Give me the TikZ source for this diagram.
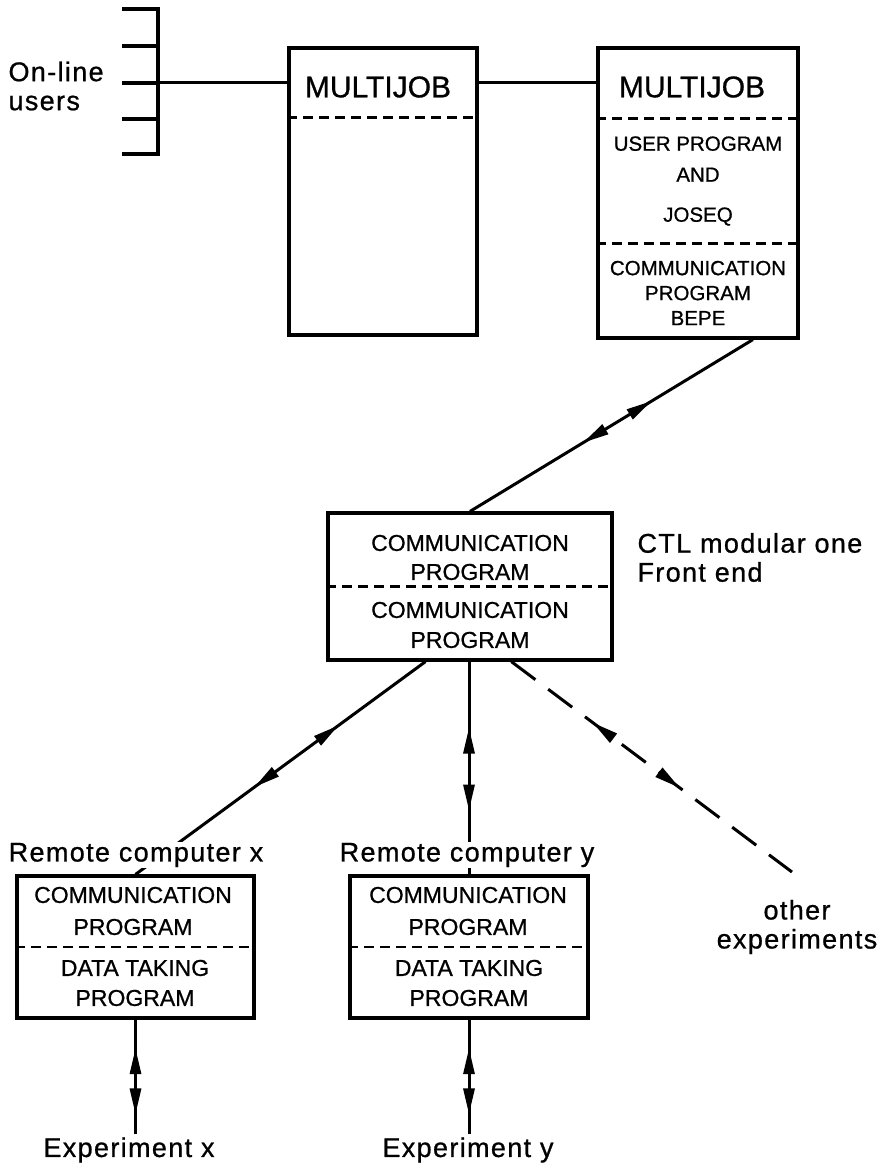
\documentclass[tikz,border=0pt]{standalone}
\usepackage{fontspec}
\setmainfont[FakeBold=0.8]{Liberation Sans}
\newfontfamily\lblfont[LetterSpace=5,FakeBold=0.8]{Liberation Sans}
\usetikzlibrary{positioning,calc,arrows.meta,decorations.markings}

\begin{document}
\begin{tikzpicture}[
  x=1pt, y=-1pt,
  box/.style={draw, line width=3.2pt, inner sep=0pt},
  sect/.style={line width=2.4pt, dash pattern=on 10pt off 6pt},
  wire/.style={line width=3pt},
  boxtext/.style={align=center, font=\fontsize{23}{30}\selectfont},
  smalltext/.style={align=center, font=\fontsize{20.5}{25}\selectfont},
  headtext/.style={font=\fontsize{30}{32}\selectfont},
  lbl/.style={align=center, font=\lblfont\fontsize{27}{29}\selectfont},
  bothways/.style 2 args={postaction={decorate}, decoration={markings,
    mark=at position #1 with {\arrowreversed{Triangle[length=26pt,width=11pt]}},
    mark=at position #2 with {\arrow{Triangle[length=26pt,width=11pt]}}}}
]
\fill[white] (0,0) rectangle (890,1169);
\useasboundingbox (0,0) rectangle (890,1169);

% boxes
\node[box, minimum width=188pt, minimum height=287pt] (mjA) at (383,191.5) {};
\node[box, minimum width=200pt, minimum height=290pt] (mjB) at (698,193) {};
\node[box, minimum width=284pt, minimum height=147pt] (fe) at (470,586.5) {};
\node[box, minimum width=237pt, minimum height=142pt] (rcx) at (135.5,947) {};
\node[box, minimum width=238pt, minimum height=142pt] (rcy) at (469,947) {};

\draw[sect] ($(mjA.north west)+(0,71)$) -- ($(mjA.north east)+(0,71)$);
\draw[sect] ($(mjB.north west)+(0,72)$) -- ($(mjB.north east)+(0,72)$);
\draw[sect] ($(mjB.north west)+(0,197)$) -- ($(mjB.north east)+(0,197)$);
\draw[sect] ($(fe.north west)+(0,75)$) -- ($(fe.north east)+(0,75)$);
\draw[sect] (rcx.west) -- (rcx.east);
\draw[sect] (rcy.west) -- (rcy.east);

\node[headtext] (mjAt) at (378,87) {MULTIJOB};
\node[headtext] (mjBt) at (692,87) {MULTIJOB};
\node[smalltext, font=\fontsize{20.5}{31}\selectfont] (upg) at (698,181) {USER PROGRAM\\AND\\[9pt]JOSEQ};
\node[smalltext] (bepet) at (698,293) {COMMUNICATION\\PROGRAM\\BEPE};
\node[boxtext, font=\fontsize{23}{29}\selectfont] (feA) at (470,557.5) {COMMUNICATION\\PROGRAM};
\node[boxtext] (feB) at (470,625) {COMMUNICATION\\PROGRAM};
\node[boxtext, font=\fontsize{23}{32}\selectfont] (rcxA) at (133,911) {COMMUNICATION\\PROGRAM};
\node[boxtext] (rcxB) at (135,983) {DATA TAKING\\PROGRAM};
\node[boxtext, font=\fontsize{23}{32}\selectfont] (rcyA) at (468,911) {COMMUNICATION\\PROGRAM};
\node[boxtext] (rcyB) at (469,983) {DATA TAKING\\PROGRAM};

% labels
\node[lbl, align=left, anchor=west] (users) at (5,86) {On-line\\users};
\node[lbl, align=left, anchor=west] (ctl) at (634,557.5) {CTL modular one\\Front end};
\node[lbl] (other) at (797,927) {other\\experiments};
\node[lbl] (expx) at (129,1150) {Experiment x};
\node[lbl] (expy) at (468,1150) {Experiment y};

% on-line users
\coordinate (usr) at (158,83);
\draw[line width=3.6pt] (122,9) -- (158,9) -- (158,154) -- (122,154);
\foreach \y in {46,83,119}
  \draw[line width=3.6pt] (122,\y) -- (158,\y);
\draw[wire] (usr) -- (mjA.west |- usr);
\draw[wire] (mjA.east |- usr) -- (mjB.west |- usr);

% links
\coordinate (bepe) at ($(mjB.south west)!0.77!(mjB.south east)$);
\coordinate (feL) at ($(fe.south west)!0.345!(fe.south east)$);
\coordinate (feR) at ($(fe.south west)!0.644!(fe.south east)$);
\coordinate (othend) at (792,872);
\draw[wire, bothways={0.357}{0.60}] (bepe) -- (fe.north);
\draw[wire, bothways={0.30}{0.59}] (feL) -- (rcx.north);
\draw[wire, bothways={0.31}{0.70}] (rcy.north |- fe.south) -- (rcy.north);
\draw[wire, dash pattern=on 30pt off 16pt, bothways={0.29}{0.60}] (feR) -- (othend);
\draw[wire, bothways={0.25}{0.83}] (rcx.south) -- (rcx.south |- expx.north);
\draw[wire, bothways={0.25}{0.83}] (rcy.south) -- (rcy.south |- expy.north);

\node[lbl, fill=white, inner sep=1pt] (rcxl) at (136,855) {Remote computer x};
\node[lbl, fill=white, inner sep=1pt] (rcyl) at (467,855) {Remote computer y};
\end{tikzpicture}
\end{document}
